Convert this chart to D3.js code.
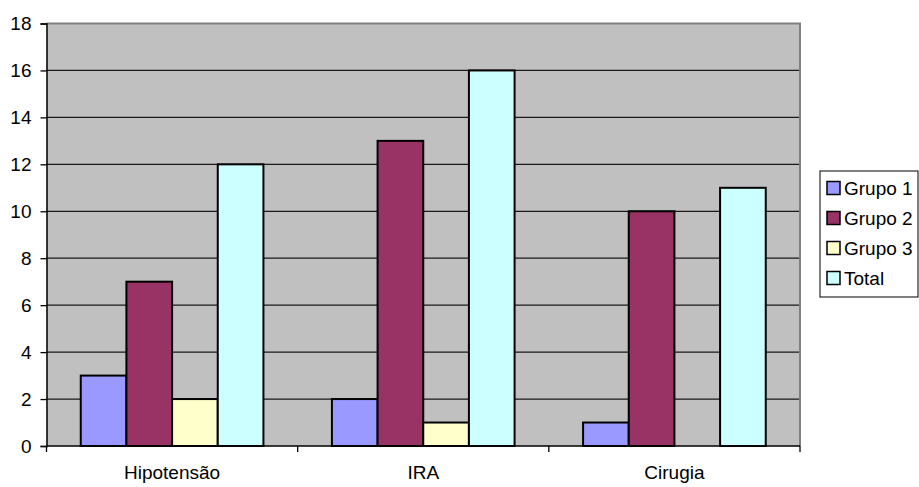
<!DOCTYPE html>
<html>
<head>
<meta charset="utf-8">
<script src="https://cdn.jsdelivr.net/npm/d3@7"></script>
<style>
  html, body { margin: 0; padding: 0; background: #fff; }
  svg text { font-family: "Liberation Sans", Arial, sans-serif; fill: #000; }
</style>
</head>
<body>
<svg id="chart" width="919" height="487"></svg>
<script>
const categories = ["Hipotensão", "IRA", "Cirugia"];
const seriesNames = ["Grupo 1", "Grupo 2", "Grupo 3", "Total"];
const grupo1 = [3, 2, 1];
const grupo2 = [7, 13, 10];
const grupo3 = [2, 1, 0];
const total = [12, 16, 11];
const yTicks = [0, 2, 4, 6, 8, 10, 12, 14, 16, 18];
const colors = ["#9999FF", "#993366", "#FFFFCC", "#CCFFFF"];

const seriesValues = [grupo1, grupo2, grupo3, total];
const fontSize = "19px";

const svg = d3.select("#chart");
const plot = { left: 46.5, right: 800, top: 23.5, bottom: 446 };

const x = d3.scaleBand().domain(categories).range([plot.left, plot.right]).padding(0);
// 4 bars per category with 150% gap width split evenly on both sides
const inner = d3.scaleBand().domain(d3.range(seriesNames.length))
  .range([0, x.bandwidth()]).paddingInner(0).paddingOuter(0.75);
const y = d3.scaleLinear().domain([0, 18]).range([plot.bottom, plot.top]);

// plot background
svg.append("rect")
  .attr("x", plot.left).attr("y", plot.top)
  .attr("width", plot.right - plot.left).attr("height", plot.bottom - plot.top)
  .attr("fill", "#C0C0C0");

// horizontal gridlines
svg.append("g").selectAll("line")
  .data(yTicks.filter(t => t > 0 && t < 18))
  .join("line")
  .attr("x1", plot.left).attr("x2", plot.right)
  .attr("y1", d => y(d)).attr("y2", d => y(d))
  .attr("stroke", "#1a1a1a").attr("stroke-width", 1.3);

// plot frame (top and right)
svg.append("path")
  .attr("d", `M${plot.left},${y(18)}H${plot.right}V${plot.bottom}`)
  .attr("fill", "none").attr("stroke", "#808080").attr("stroke-width", 2);

// bars
const groups = svg.append("g").selectAll("g")
  .data(categories)
  .join("g")
  .attr("transform", d => `translate(${x(d)},0)`);

groups.selectAll("rect")
  .data((c, ci) => seriesValues.map((vals, si) => ({ si, v: vals[ci] })))
  .join("rect")
  .filter(d => d.v > 0)
  .attr("x", d => inner(d.si))
  .attr("width", inner.bandwidth())
  .attr("y", d => y(d.v))
  .attr("height", d => y(0) - y(d.v))
  .attr("fill", d => colors[d.si])
  .attr("stroke", "#000").attr("stroke-width", 2);

// y axis
const yAxis = d3.axisLeft(y).tickValues(yTicks).tickSize(6).tickPadding(9).tickFormat(d3.format("d"));
const yG = svg.append("g").attr("transform", `translate(${plot.left},0)`).call(yAxis);
yG.select(".domain").attr("stroke", "#000").attr("stroke-width", 1.5);
yG.selectAll(".tick line").attr("stroke", "#000").attr("stroke-width", 1.3);
yG.selectAll("text").attr("font-size", fontSize).attr("font-family", "Liberation Sans, Arial, sans-serif");

// x axis with ticks at category boundaries
const xG = svg.append("g").attr("transform", `translate(0,${plot.bottom})`);
xG.append("line")
  .attr("x1", plot.left).attr("x2", plot.right)
  .attr("stroke", "#000").attr("stroke-width", 1.5);
const bounds = categories.map(c => x(c)).concat([plot.right]);
xG.selectAll("line.tick")
  .data(bounds)
  .join("line").attr("class", "tick")
  .attr("x1", d => d).attr("x2", d => d)
  .attr("y1", 0).attr("y2", 6)
  .attr("stroke", "#000").attr("stroke-width", 1.3);
xG.selectAll("text")
  .data(categories)
  .join("text")
  .attr("x", d => x(d) + x.bandwidth() / 2)
  .attr("y", 33)
  .attr("text-anchor", "middle")
  .attr("font-size", fontSize)
  .text(d => d);

// legend
const legend = svg.append("g");
legend.append("rect")
  .attr("x", 820).attr("y", 171).attr("width", 98).attr("height", 126)
  .attr("fill", "#fff").attr("stroke", "#000").attr("stroke-width", 1);
const items = legend.selectAll("g.item")
  .data(seriesNames)
  .join("g").attr("class", "item")
  .attr("transform", (d, i) => `translate(827,${188 + i * 30})`);
items.append("rect")
  .attr("x", 0).attr("y", -6.5).attr("width", 13).attr("height", 13)
  .attr("fill", (d, i) => colors[i])
  .attr("stroke", "#000").attr("stroke-width", 1.5);
items.append("text")
  .attr("x", 17).attr("y", 0).attr("dy", "0.35em")
  .attr("font-size", fontSize)
  .text(d => d);
</script>
</body>
</html>
